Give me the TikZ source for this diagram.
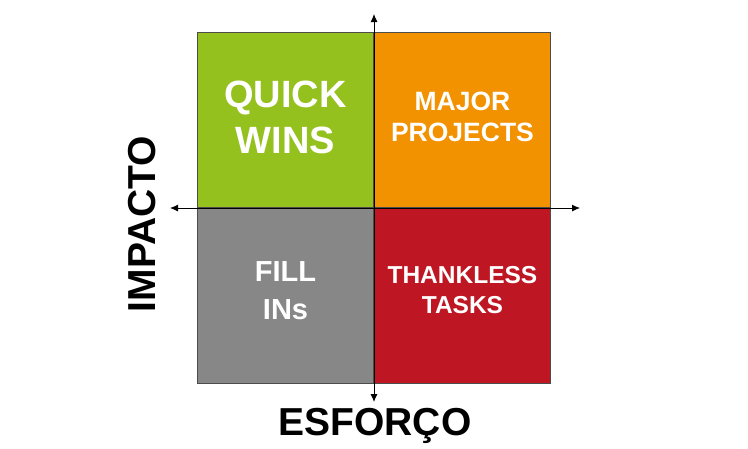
\documentclass[tikz,border=0pt]{standalone}
\usepackage{fontspec}
\setmainfont{Liberation Sans}
\usepackage{xcolor}
\usetikzlibrary{calc,arrows.meta}

\definecolor{qgreen}{HTML}{95C11F}
\definecolor{qorange}{HTML}{F39200}
\definecolor{qgray}{HTML}{878787}
\definecolor{qred}{HTML}{BE1622}

\begin{document}
\begin{tikzpicture}[x=1pt,y=-1pt,
    quad/.style={draw=black!70, line width=0.9pt, minimum width=176pt, minimum height=175pt,
                 inner sep=0pt, text=white, align=center, font=\bfseries},
    axislabel/.style={font=\bfseries\fontsize{39}{39}\selectfont, inner sep=0pt}]
                % 固定画布大小
                \useasboundingbox (0,0) rectangle (748,448);

                % 定义象限尺寸
                \pgfmathsetmacro{\xl}{198} % 左边
                \pgfmathsetmacro{\xm}{374} % 中线
                \pgfmathsetmacro{\yt}{33}  % 上边
                \pgfmathsetmacro{\ym}{208} % 中线

                % 绘制四个象限
                \node[quad, fill=qgreen, anchor=south east] (qw) at (\xm,\ym) {};
                \node[quad, fill=qorange, anchor=south west] (mp) at (\xm,\ym) {};
                \node[quad, fill=qgray, anchor=north east] (fi) at (\xm,\ym) {};
                \node[quad, fill=qred, anchor=north west] (tt) at (\xm,\ym) {};

                % 象限文字
                \node[text=white, align=center, font=\bfseries\fontsize{38}{46}\selectfont] (qwt)
                    at ($(qw.center)+(0,-3)$) {QUICK\\WINS};
                \node[text=white, align=center, font=\bfseries\fontsize{26.5}{31}\selectfont] (mpt)
                    at ($(mp.center)+(0,-3)$) {MAJOR\\PROJECTS};
                \node[text=white, align=center, font=\bfseries\fontsize{29}{38}\selectfont] (fit)
                    at ($(fi.center)+(0,-5)$) {FILL\\INs};
                \node[text=white, align=center, font=\bfseries\fontsize{24.5}{30}\selectfont] (ttt)
                    at ($(tt.center)+(0,-6)$) {THANKLESS\\TASKS};

                % 坐标轴端点
                \coordinate (axl) at (170,\ym);
                \coordinate (axr) at (580,\ym);
                \coordinate (axt) at (\xm,14);
                \coordinate (axb) at (\xm,402);

                % 绘制坐标轴
                \draw[{Latex[length=8pt,width=7pt]}-{Latex[length=8pt,width=7pt]}, line width=0.9pt] (axl) -- (axr);
                \draw[{Latex[length=8pt,width=7pt]}-{Latex[length=8pt,width=7pt]}, line width=0.9pt] (axt) -- (axb);

                % 标注坐标轴
                \node[axislabel, rotate=90, anchor=base] (imp) at (155,224) {IMPACTO};
                \node[axislabel, anchor=base] (esf) at (375,435) {ESFORÇO};
            \end{tikzpicture}
\end{document}
